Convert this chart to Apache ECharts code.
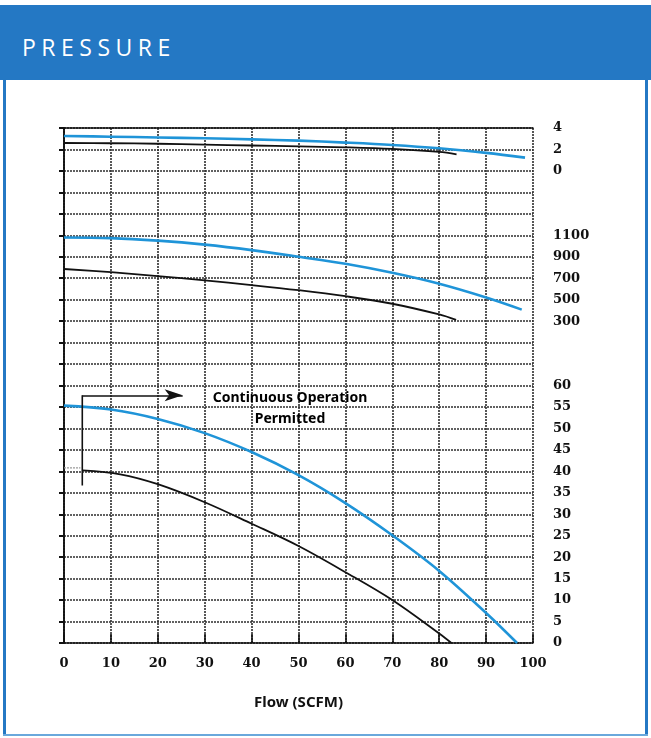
<!DOCTYPE html>
<html>
<head>
<meta charset="utf-8">
<script src="https://cdn.jsdelivr.net/npm/echarts@6/dist/echarts.min.js"></script>
<style>
  html, body { margin: 0; padding: 0; background: #fff; }
  #wrap { position: relative; width: 651px; height: 738px; overflow: hidden; background: #fff; }
  #header { position: absolute; left: 0; top: 5px; width: 651px; height: 75px; background: #2478c4; }
  #header span { position: absolute; left: 22px; top: 29px; color: #fff; font-family: "Open Sans", "Noto Sans", sans-serif; font-size: 23px; letter-spacing: 5.5px; line-height: 26px; }
  #frameL { position: absolute; left: 3px; top: 80px; width: 3px; height: 656px; background: #2478c4; }
  #frameR { position: absolute; left: 645px; top: 80px; width: 3px; height: 656px; background: #2478c4; }
  #frameB { position: absolute; left: 3px; top: 734px; width: 645px; height: 2px; background: #6aa8dc; }
  #chart { position: absolute; left: 0; top: 0; width: 651px; height: 738px; }
</style>
</head>
<body>
<div id="wrap">
  <div id="chart"></div>
  <div id="header"><span>PRESSURE</span></div>
  <div id="frameL"></div>
  <div id="frameR"></div>
  <div id="frameB"></div>
</div>
<script>
// ---- Data ----
const flowTicks = [0, 10, 20, 30, 40, 50, 60, 70, 80, 90, 100];

// Top section (0-4 scale)
const topBlueFlow  = [0, 10, 20, 30, 40, 50, 60, 70, 80, 90, 98.3];
const topBlueVal   = [3.26, 3.19, 3.12, 3.04, 2.94, 2.82, 2.64, 2.42, 2.11, 1.68, 1.24];
const topBlackFlow = [0, 10, 20, 30, 40, 50, 60, 70, 80, 83.7];
const topBlackVal  = [2.60, 2.58, 2.53, 2.45, 2.37, 2.29, 2.20, 2.05, 1.77, 1.55];

// Middle section (300-1100 scale)
const midBlueFlow  = [0, 10, 20, 30, 40, 50, 60, 70, 80, 90, 97.6];
const midBlueVal   = [1080, 1074, 1050, 1013, 962, 900, 834, 750, 648, 520, 407];
const midBlackFlow = [0, 10, 20, 30, 40, 50, 60, 70, 80, 83.6];
const midBlackVal  = [786, 756, 720, 680, 636, 588, 532, 462, 362, 311];

// Bottom section (pressure 0-60)
const botBlueFlow  = [0, 10, 20, 30, 40, 50, 60, 70, 80, 90, 96.6];
const botBlueVal   = [55.3, 54.4, 52.2, 48.9, 44.5, 39.1, 32.6, 25.1, 16.8, 7.0, 0];
const botBlackFlow = [4, 12, 20, 30, 40, 50, 60, 70, 80, 82.6];
const botBlackVal  = [40.2, 39.3, 37.0, 32.8, 27.8, 22.6, 16.5, 10.0, 2.2, 0];
const botStubFlow  = [0, 3.5];
const botStubVal   = [40.8, 40.8];

// Tick labels shown on the right
const topLabels = [0, 2, 4];
const midLabels = [300, 500, 700, 900, 1100];
const botLabels = [0, 5, 10, 15, 20, 25, 30, 35, 40, 45, 50, 55, 60];

// Annotation
const arrowPath = [[3.9, 36.7], [3.9, 57.7], [25.3, 57.7]];
const noteLines = [
  { text: 'Continuous Operation', flow: 48.2, value: 57.2 },
  { text: 'Permitted', flow: 48.2, value: 52.1 }
];
const xName = 'Flow (SCFM)';

// ---- Build ----
const zip = (xs, ys) => xs.map((x, i) => [x, ys[i]]);
const BLUE = '#1f94d8';
const INK = '#111';
const gridLine = { show: true, lineStyle: { color: '#2e2e2e', type: [2, 1], width: 1.6 } };
const labelFont = { fontFamily: 'DejaVu Serif', fontWeight: 'bold', fontSize: 13, color: INK };

function rightAxis(min, max, interval, labels, showLine) {
  return {
    type: 'value', position: 'right', min, max, interval,
    axisLine: { show: showLine, lineStyle: { color: INK, width: 1.5 } },
    axisTick: { show: showLine, inside: true, length: 5, lineStyle: { color: INK, width: 2 } },
    axisLabel: Object.assign({
      show: true, margin: 20, showMinLabel: true, showMaxLabel: true, hideOverlap: false,
      formatter: v => labels.indexOf(Math.round(v * 100) / 100) >= 0 ? String(v) : ''
    }, labelFont),
    splitLine: { show: false }
  };
}

function curve(yAxisIndex, xs, ys, color, width, z) {
  return { type: 'line', yAxisIndex, data: zip(xs, ys), smooth: 0.35,
    showSymbol: false, silent: true, lineStyle: { color, width }, z };
}

const chart = echarts.init(document.getElementById('chart'), null, { renderer: 'canvas' });
chart.setOption({
  animation: false,
  backgroundColor: 'transparent',
  grid: { left: 64, right: 118, top: 128, bottom: 95, containLabel: false },
  xAxis: [
    {
      type: 'value', min: flowTicks[0], max: flowTicks[flowTicks.length - 1], interval: 10,
      position: 'bottom',
      name: xName, nameLocation: 'middle', nameGap: 52,
      nameTextStyle: { fontFamily: 'Noto Sans', fontWeight: 'bold', fontSize: 15, color: INK },
      axisLine: { show: true, lineStyle: { color: INK, width: 1.5 } },
      axisTick: { show: true, inside: true, length: 9, lineStyle: { color: INK, width: 1.6 } },
      axisLabel: Object.assign({ margin: 14, showMinLabel: true, showMaxLabel: true,
        formatter: v => flowTicks.indexOf(v) >= 0 ? String(v) : '' }, labelFont),
      splitLine: gridLine
    },
    {
      type: 'value', min: 0, max: 100, position: 'top',
      axisLine: { show: true, onZero: false, lineStyle: { color: INK, width: 1.5 } },
      axisTick: { show: false }, axisLabel: { show: false }, splitLine: { show: false }
    }
  ],
  yAxis: [
    rightAxis(0, 120, 5, botLabels, true),
    rightAxis(-2700, 2100, 200, midLabels, false),
    rightAxis(-44, 4, 2, topLabels, false),
    {
      type: 'value', position: 'left', min: 0, max: 24, interval: 1,
      axisLine: { show: true, onZero: false, lineStyle: { color: INK, width: 1.5 } },
      axisTick: { show: false }, axisLabel: { show: false },
      splitLine: gridLine
    }
  ],
  series: [
    curve(2, topBlackFlow, topBlackVal, INK, 1.8, 3),
    curve(2, topBlueFlow, topBlueVal, BLUE, 2.6, 4),
    curve(1, midBlackFlow, midBlackVal, INK, 1.8, 3),
    curve(1, midBlueFlow, midBlueVal, BLUE, 2.6, 4),
    curve(0, botBlackFlow, botBlackVal, INK, 1.8, 3),
    curve(0, botBlueFlow, botBlueVal, BLUE, 2.6, 4),
    { type: 'line', yAxisIndex: 0, data: zip(botStubFlow, botStubVal), showSymbol: false, silent: true,
      lineStyle: { color: '#9a9a9a', width: 1.2, type: [2, 1] }, z: 2 },
    { type: 'line', yAxisIndex: 0, data: arrowPath.slice(0, 2), showSymbol: false, silent: true,
      lineStyle: { color: INK, width: 1.6 }, z: 5,
      markLine: {
        silent: true, animation: false, label: { show: false },
        lineStyle: { color: INK, width: 1.6, type: 'solid' },
        data: [[
          { coord: arrowPath[1], symbol: 'none' },
          { coord: arrowPath[2], symbol: 'arrow', symbolSize: [9, 18] }
        ]]
      },
      markPoint: {
        silent: true, animation: false, symbol: 'circle', symbolSize: 0,
        itemStyle: { color: '#000', opacity: 1 },
        label: { show: true, position: 'inside', formatter: p => p.name,
          fontFamily: 'Noto Sans', fontWeight: 'bold', fontSize: 14, color: '#000',
          textBorderWidth: 0 },
        data: noteLines.map(n => ({ coord: [n.flow, n.value], name: n.text }))
      }
    }
  ]
});
</script>
</body>
</html>
